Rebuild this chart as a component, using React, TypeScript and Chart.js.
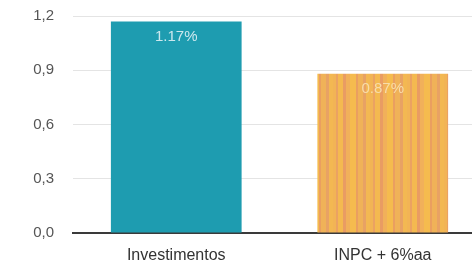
import React, { useEffect, useRef } from "react";
import { Chart, registerables } from "chart.js";

Chart.register(...registerables);

const categories = ["Investimentos", "INPC + 6%aa"];
const values = [1.17, 0.88];
const valueLabels = ["1.17%", "0.87%"];
const yTicks = [0, 0.3, 0.6, 0.9, 1.2];

function makeStripes(): CanvasPattern | string {
  const c = document.createElement("canvas");
  c.width = 37;
  c.height = 4;
  const g = c.getContext("2d");
  if (!g) return "#efad55";
  const cols = ["#f2b455", "#eba262", "#f4b950", "#e99c63", "#f1b05a", "#f5bb4e", "#ea9f60", "#f0b258", "#e8a264", "#f3b852"];
  const widths = [3, 2, 5, 3, 4, 6, 2, 5, 3, 4];
  let x = 0;
  for (let i = 0; i < cols.length; i++) {
    g.fillStyle = cols[i];
    g.fillRect(x, 0, widths[i], 4);
    x += widths[i];
  }
  const p = g.createPattern(c, "repeat");
  return p || "#efad55";
}

const labelPlugin = {
  id: "barLabels",
  afterDatasetsDraw(chart: any) {
    const ctx = chart.ctx;
    const meta = chart.getDatasetMeta(0);
    const colors = ["#cde8ee", "#f7dcaa"];
    ctx.save();
    ctx.font = "15px Arial, 'Liberation Sans', sans-serif";
    ctx.textAlign = "center";
    ctx.textBaseline = "middle";
    meta.data.forEach((bar: any, i: number) => {
      ctx.fillStyle = colors[i];
      ctx.fillText(valueLabels[i], bar.x, bar.y + 15);
    });
    ctx.restore();
  },
};

export default function App() {
  const ref = useRef<HTMLCanvasElement | null>(null);
  useEffect(() => {
    if (!ref.current) return;
    const chart = new Chart(ref.current, {
      type: "bar",
      data: {
        labels: categories,
        datasets: [
          {
            data: values,
            backgroundColor: ["#1e9cb0", makeStripes() as any],
            borderWidth: 0,
            categoryPercentage: 1,
            barPercentage: 0.633,
          },
        ],
      },
      plugins: [labelPlugin],
      options: {
        animation: false,
        responsive: false,
        maintainAspectRatio: false,
        layout: { padding: { top: -3, right: 0, bottom: 0, left: 0 } },
        plugins: { legend: { display: false }, tooltip: { enabled: false } },
        scales: {
          x: {
            grid: { display: false, drawTicks: false },
            border: { display: true, color: "#3a3a3a", width: 2 },
            ticks: {
              color: "#333",
              font: { family: "Arial, 'Liberation Sans', sans-serif", size: 16 },
              padding: 13,
            },
            afterFit(scale: any) {
              scale.height = 33;
            },
          },
          y: {
            min: 0,
            max: 1.2,
            afterBuildTicks(scale: any) {
              scale.ticks = yTicks.map((v) => ({ value: v }));
            },
            grid: { color: "#e4e4e4", lineWidth: 1, drawTicks: false },
            border: { display: false },
            ticks: {
              color: "#555",
              font: { family: "Arial, 'Liberation Sans', sans-serif", size: 15 },
              padding: 19,
              callback: (v: any) => Number(v).toFixed(1).replace(".", ","),
            },
            afterFit(scale: any) {
              scale.width = 73;
            },
          },
        },
      },
    });
    return () => chart.destroy();
  }, []);
  return (
    <div style={{ position: "fixed", left: 0, top: 0, width: 472, height: 266, overflow: "hidden", background: "#fff" }}>
      <canvas ref={ref} width={486} height={278} style={{ display: "block", position: "absolute", left: 0, top: -12 }} />
    </div>
  );
}
